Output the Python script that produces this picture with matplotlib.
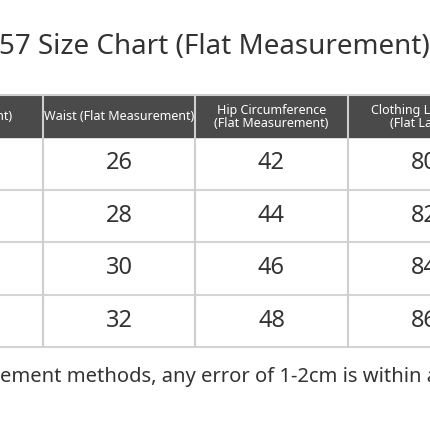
import matplotlib.pyplot as plt
from matplotlib.patches import Rectangle

plt.rcParams['font.family'] = ['Noto Sans', 'DejaVu Sans']

title = "57 Size Chart (Flat Measurement)"
note = "ement methods, any error of 1-2cm is within a normal range."
headers = ["Bust (Flat Measurement)", "Waist (Flat Measurement)",
           "Hip Circumference\n(Flat Measurement)", "Clothing Length\n(Flat Laid)"]
waist = [26, 28, 30, 32]
hip = [42, 44, 46, 48]
length = [80, 82, 84, 86]

# column edges in pixel coords (table is cropped at both sides)
col_edges = [-110, 43, 195, 348, 500]
head_top, head_bot = 95, 137
row_h = 52.5

fig = plt.figure(figsize=(4.3, 4.3), dpi=100)
ax = fig.add_axes([0, 0, 1, 1])
ax.set_xlim(0, 430)
ax.set_ylim(430, 0)
ax.axis('off')

ax.text(-1, 47, title, fontsize=20, color='#333333', va='center', ha='left')

ax.add_patch(Rectangle((col_edges[0], head_top), col_edges[-1] - col_edges[0],
                       head_bot - head_top, color='#4a4a4a', zorder=1))
for i, h in enumerate(headers):
    cx = (col_edges[i] + col_edges[i + 1]) / 2
    if i == 0:
        ax.text(12, (head_top + head_bot) / 2, h, ha='right', va='center',
                color='white', fontsize=9, linespacing=1.0)
    else:
        if i == 3:
            cx = 418
        ax.text(cx, (head_top + head_bot) / 2 + 1, h, ha='center', va='center',
                color='white', fontsize=9, linespacing=1.0)

cols = [None, waist, hip, length]
n = len(waist)
bottom = head_bot + n * row_h
for r in range(n):
    y = head_bot + (r + 0.5) * row_h
    for c in range(1, 4):
        cx = (col_edges[c] + col_edges[c + 1]) / 2
        ax.text(cx, y, str(cols[c][r]), ha='center', va='center',
                fontsize=17, color='#333333')
    ax.plot([0, 430], [head_bot + (r + 1) * row_h] * 2, color='#d4d4d4', lw=1.5)
for x in col_edges[1:-1]:
    ax.plot([x, x], [head_top, bottom], color='#cfcfcf', lw=1.5, zorder=2)
ax.plot([0, 430], [head_top, head_top], color='#cfcfcf', lw=1.5)

ax.text(0, 377, note, fontsize=14.5, color='#333333', va='center', ha='left')

fig.savefig('out.png', dpi=100)
